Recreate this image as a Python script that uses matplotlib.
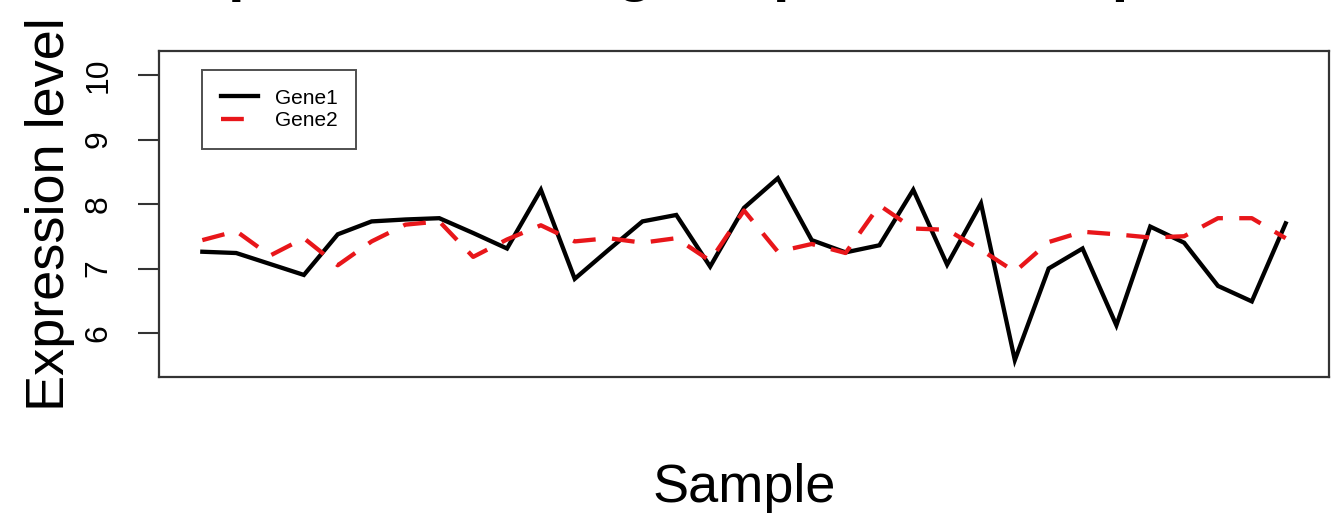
import matplotlib
matplotlib.use("Agg")
import matplotlib.pyplot as plt
import numpy as np

# Data
# --------------
sample = np.arange(1, 34)
gene1 = [7.26, 7.24, 7.07, 6.90, 7.53, 7.73, 7.76, 7.78, 7.55, 7.31, 8.22,
         6.84, 7.29, 7.73, 7.83, 7.03, 7.94, 8.40, 7.44, 7.25, 7.36, 8.22,
         7.06, 8.01, 5.58, 7.00, 7.31, 6.12, 7.65, 7.40, 6.73, 6.49, 7.70]
gene2 = [7.44, 7.58, 7.20, 7.47, 7.05, 7.42, 7.68, 7.73, 7.18, 7.45, 7.67,
         7.42, 7.47, 7.40, 7.47, 7.12, 7.90, 7.26, 7.38, 7.24, 7.98, 7.62,
         7.60, 7.29, 6.95, 7.41, 7.57, 7.53, 7.48, 7.50, 7.78, 7.78, 7.47]
yticks = [6, 7, 8, 9, 10]
title = "Expression of a gene pair in rats, p = 0.05"

plt.rcParams['font.family'] = ['Liberation Sans', 'DejaVu Sans']

W, H = 1331, 513
fig = plt.figure(figsize=(W / 100, H / 100), dpi=100)
# axes box in pixels: left 159, right 1329, top 51, bottom 377
ax = fig.add_axes([159 / W, 1 - 377 / H, (1329 - 159) / W, (377 - 51) / H])

ax.plot(sample, gene1, color='black', lw=3.1, label='Gene1', solid_joinstyle='miter')
ax.plot(sample, gene2, color='#e8161a', lw=3.1, dashes=(5.3, 3.8), label='Gene2')

# R style x range (4% padding)
pad = 0.04 * (sample[-1] - sample[0])
ax.set_xlim(sample[0] - pad, sample[-1] + pad)
ax.set_ylim(6 - 44 / 64.5, 10 + 24 / 64.5)

ax.set_xticks([])
ax.set_yticks(yticks)
ax.set_yticklabels([str(t) for t in yticks], rotation=90, va='center', fontsize=23)
ax.tick_params(axis='y', length=15, width=1.5, pad=18, color='#333333')
for s in ax.spines.values():
    s.set_color('#333333')
    s.set_linewidth(1.6)

leg = ax.legend(loc='upper left', bbox_to_anchor=((202 - 159) / 1170, (377 - 70) / 326),
                borderaxespad=0, fancybox=False, frameon=True, fontsize=15,
                handlelength=1.8, handletextpad=0.8, labelspacing=0.15, borderpad=0.9)
leg.get_frame().set_edgecolor('#222222')
leg.get_frame().set_linewidth(1.4)

# labels placed like R's par(mgp)
fig.text(50 / W, 1 - 214 / H, 'Expression level', rotation=90, ha='center', va='center',
         fontsize=39)
fig.text(744 / W, 1 - 502 / H, 'Sample', ha='center', va='baseline', fontsize=39)
# main title sits mostly above the crop, only descenders show
fig.text(744 / W, 1 + 9.5 / H, title, ha='center', va='baseline', fontsize=43,
         fontweight='bold')

fig.savefig('out.png', dpi=100, facecolor='white')
